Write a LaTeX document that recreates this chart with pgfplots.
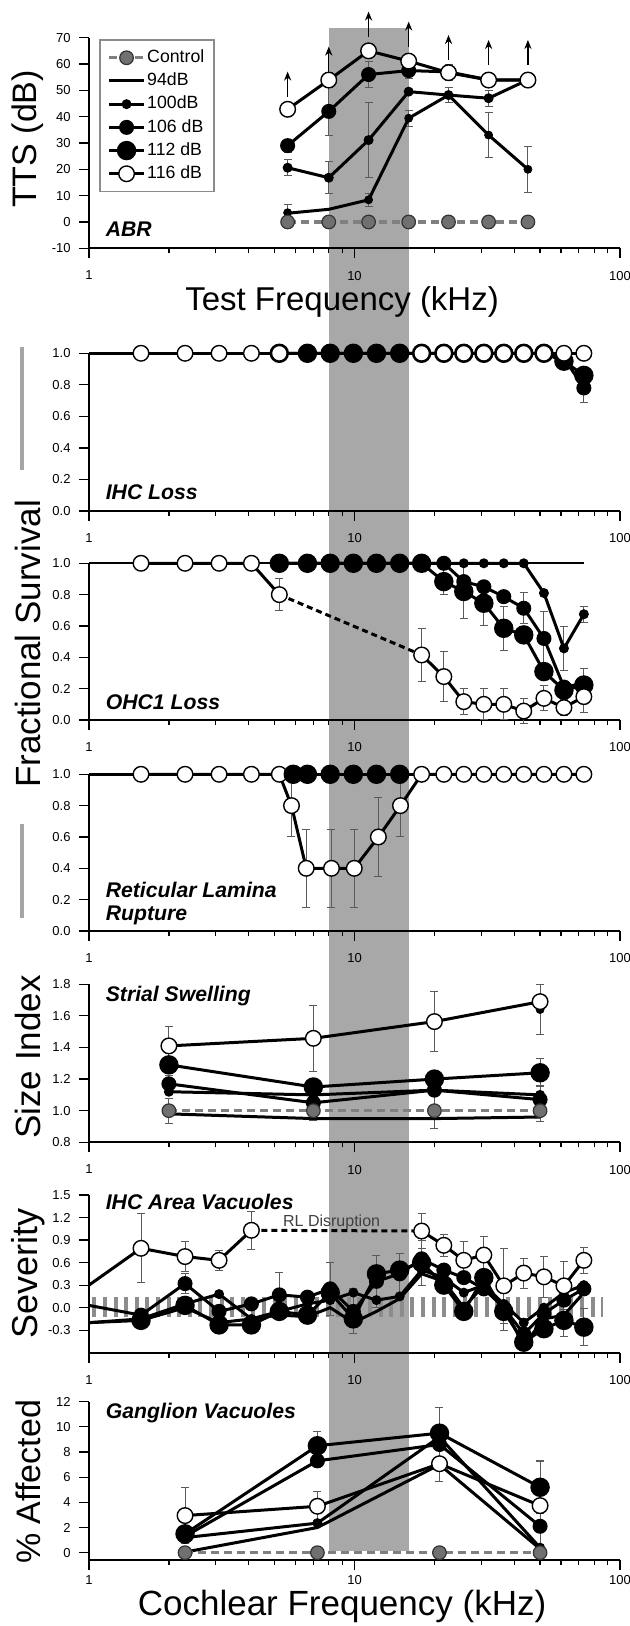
\documentclass[border=0pt]{standalone}
\usepackage{fontspec}
\setmainfont{Liberation Sans}
\usepackage{pgfplots}
\pgfplotsset{compat=1.18}
\usetikzlibrary{arrows.meta}

\definecolor{bandgray}{RGB}{168,168,168}
\definecolor{ctlfill}{RGB}{112,112,112}
\definecolor{ctlline}{RGB}{128,128,128}
\definecolor{hatchgray}{RGB}{140,140,140}
\definecolor{ebar}{RGB}{90,90,90}
\definecolor{sidebar}{RGB}{165,165,165}

\newcommand\ptitle{\fontsize{10.6}{12}\selectfont\bfseries\itshape}

% common look of all seven panels
\pgfplotsset{every axis/.append style={
    scale only axis, width=265.5pt,
    xmode=log, xmin=1, xmax=100,
    axis x line=bottom, axis y line=left,
    axis line style={line width=1pt,-},
    tick align=outside,
    xtick={1,10,100}, xticklabels={1,10,100},
    minor xtick={2,3,4,5,6,7,8,9,20,30,40,50,60,70,80,90},
    major tick length=5pt, minor tick length=2.5pt,
    tick style={black, line width=0.6pt},
    tick label style={font=\fontsize{6.5}{7}\selectfont},
    xticklabel style={yshift=-2.8pt},
    yticklabel style={xshift=-0.7pt},
    clip=false,
    ylabel style={font=\fontsize{17}{17}\selectfont},
    xlabel style={font=\fontsize{16.5}{17}\selectfont},
}}
\pgfplotsset{
  s94/.style={black, line width=1.5pt, mark=none},
  s100/.style={black, line width=1.5pt, mark=*, mark size=1.7pt, mark options={fill=black, solid}},
  s106/.style={black, line width=1.5pt, mark=*, mark size=3pt, mark options={fill=black, solid}},
  s112/.style={black, line width=1.5pt, mark=*, mark size=4.1pt, mark options={fill=black, solid}},
  s116/.style={black, line width=1.5pt, mark=*, mark size=3.9pt, mark options={fill=white, draw=black, line width=0.7pt, solid}},
  sctl/.style={ctlline, line width=1.6pt, dash pattern=on 4pt off 2.5pt, mark=*, mark size=3.4pt, mark options={fill=ctlfill, draw=black!80, line width=0.6pt, solid}},
  sdash/.style={black, line width=1.5pt, dash pattern=on 3pt off 2pt},
  sarrow/.style={forget plot, black, line width=0.6pt, mark=none, -{Stealth[length=4.5pt,width=3.6pt]}},
  ebars/.style={forget plot, only marks,
    error bars/y dir=both, error bars/y explicit,
    error bars/error mark=-,
    error bars/error bar style={ebar, line width=0.5pt},
    error bars/error mark options={rotate=90, ebar, line width=0.5pt, mark size=2pt}},
}

\begin{document}
\begin{tikzpicture}
\useasboundingbox (0,0) rectangle (315pt,813pt);

% side bars beside "Fractional Survival"
\draw[sidebar, line width=2.4pt] (11pt,639.5pt) -- (11pt,578pt);
\draw[sidebar, line width=2.4pt] (11pt,401pt) -- (11pt,354pt);

% 8-16 kHz band, behind every panel (same frame as the ABR panel)
\begin{axis}[at={(44.5pt,688.85pt)}, anchor=south west, height=105.3pt,
  ymin=-10, ymax=70, hide axis]
\addplot[fill=bandgray, draw=none, forget plot] coordinates {(8,73.8) (16,73.8) (16,-505) (8,-505)} -- cycle;
\end{axis}

% ---------------- ABR ----------------
\begin{axis}[at={(44.5pt,688.85pt)}, anchor=south west, height=105.3pt,
  ymin=-10, ymax=70, ytick={-10,0,10,20,30,40,50,60,70},
  yticklabels={-10,0,10,20,30,40,50,60,70},
  ylabel={TTS (dB)}, ylabel style={at={(axis description cs:-0.1146,0.519)}, anchor=center},
  xlabel={Test Frequency (kHz)}, xlabel style={at={(axis description cs:0.4766,-0.257)}, anchor=center},
  legend style={at={(axis description cs:0.019,0.992)}, anchor=north west,
    draw=black!45, line width=0.8pt, fill=white,
    font=\fontsize{8.85}{10}\selectfont, inner xsep=4pt, inner ysep=3pt,
    row sep=0pt, cells={anchor=west},
    nodes={inner sep=1pt, text height=7.2pt, text depth=2.4pt}},
  legend cell align=left,
]
\addplot[ebars] coordinates {
  (5.6,3.5) +- (0,3) (11.3,8.4) +- (0,2.5) (16,39.4) +- (0,3) (32,33) +- (0,8.7) (45,20) +- (0,8.7)
  (5.6,20.6) +- (0,3) (8,16.8) +- (0,6) (11.3,31.1) +- (0,14.4) (22.6,48.2) +- (0,3) (32,47) +- (0,3)
  (5.6,29) +- (0,2.5) (8,42) +- (0,9) (11.3,56) +- (0,5) (16,57.5) +- (0,3)
  (8,53.9) +- (0,3) (22.6,56.7) +- (0,3)
};
\addplot[sctl] coordinates {(5.6,0) (8,0) (11.3,0) (16,0) (22.6,0) (32,0) (45,0)};
\addlegendentry{Control\hspace{5pt}}
\addplot[s94] coordinates {(5.6,3.3) (8,4.8) (11.3,8.4) (16,39.4) (22.6,48.2) (32,33) (45,20)};
\addlegendentry{94dB}
\addplot[s100] coordinates {(5.6,20.6) (8,16.8) (11.3,31.1) (16,49.5) (22.6,48.2) (32,47) (45,54)};
\addlegendentry{100dB}
\addplot[s106] coordinates {(5.6,29) (8,42) (11.3,56) (16,57.5) (22.6,57) (32,54) (45,54)};
\addlegendentry{106 dB}
\addlegendimage{black, line width=1.5pt, mark=*, mark size=4.1pt, mark options={fill=black, solid}}
\addlegendentry{112 dB}
\addplot[s116] coordinates {(5.6,42.8) (8,53.9) (11.3,65) (16,61.1) (22.6,56.7) (32,53.9) (45,53.9)};
\addlegendentry{116 dB}
\addplot[sarrow] coordinates {(5.6,47.6) (5.6,57.1)};
\addplot[sarrow] coordinates {(8,57.1) (8,66.6)};
\addplot[sarrow] coordinates {(11.3,70.4) (11.3,79.9)};
\addplot[sarrow] coordinates {(16,66.6) (16,76.1)};
\addplot[sarrow] coordinates {(22.6,61.5) (22.6,71)};
\addplot[sarrow] coordinates {(32,59.6) (32,69.1)};
\addplot[sarrow] coordinates {(45,59.6) (45,69.1)};
\node[anchor=base west, font=\ptitle] at (axis description cs:0.0184,0.055) {ABR};
\end{axis}

% ---------------- IHC loss ----------------
\begin{axis}[at={(44.5pt,557.5pt)}, anchor=south west, height=78.85pt,
  ymin=0, ymax=1, ytick={0,0.2,0.4,0.6,0.8,1}, yticklabels={0.0,0.2,0.4,0.6,0.8,1.0}]
\addplot[ebars] coordinates {(73.1,0.78) +- (0,0.09) (61.5,0.95) +- (0,0.03)};
\addplot[s94] coordinates {(1,1) (73.1,1)};
\addplot[s106] coordinates {(5.21,1) (6.65,1) (8.1,1) (9.9,1) (12.1,1) (14.8,1) (17.9,1) (21.7,1) (25.8,1) (30.7,1) (36.5,1) (43.4,1) (51.7,1) (61.5,0.97) (73.1,0.78)};
\addplot[s112] coordinates {(5.21,1) (6.65,1) (8.1,1) (9.9,1) (12.1,1) (14.8,1) (17.9,1) (21.7,1) (25.8,1) (30.7,1) (36.5,1) (43.4,1) (51.7,1) (61.5,0.95) (73.1,0.86)};
\addplot[s116] coordinates {(1.57,1) (2.3,1) (3.09,1) (4.09,1) (5.21,1) (17.9,1) (21.7,1) (25.8,1) (30.7,1) (36.5,1) (43.4,1) (51.7,1) (61.5,1) (73.1,1)};
\node[anchor=base west, font=\ptitle] at (axis description cs:0.0184,0.07) {IHC Loss};
\end{axis}

% ---------------- OHC1 loss ----------------
\begin{axis}[at={(44.5pt,453pt)}, anchor=south west, height=78.35pt,
  ymin=0, ymax=1, ytick={0,0.2,0.4,0.6,0.8,1}, yticklabels={0.0,0.2,0.4,0.6,0.8,1.0},
  ylabel={Fractional Survival}, ylabel style={at={(axis description cs:-0.1146,0.485)}, anchor=center, font=\fontsize{17.5}{17.5}\selectfont}]
\addplot[ebars] coordinates {
  (5.21,0.8) +- (0,0.1) (17.9,0.415) +- (0,0.17) (21.7,0.277) +- (0,0.16) (25.8,0.117) +- (0,0.085)
  (30.7,0.10) +- (0,0.1) (36.5,0.10) +- (0,0.1) (43.4,0.057) +- (0,0.08) (51.7,0.138) +- (0,0.08)
  (61.5,0.079) +- (0,0.05) (73.1,0.149) +- (0,0.1)
  (9.9,1) +- (0,0.05) (21.7,0.883) +- (0,0.08) (25.8,0.82) +- (0,0.17) (30.7,0.745) +- (0,0.14)
  (36.5,0.585) +- (0,0.14) (43.4,0.713) +- (0,0.1) (51.7,0.52) +- (0,0.17) (61.5,0.457) +- (0,0.14)
  (73.1,0.675) +- (0,0.05) (73.1,0.23) +- (0,0.1)
};
\addplot[s94, line width=1pt] coordinates {(1,1) (73.1,1)};
\addplot[sdash] coordinates {(5.21,0.8) (17.9,0.415)};
\addplot[s100] coordinates {(5.21,1) (6.65,1) (8.1,1) (9.9,1) (12.1,1) (14.8,1) (17.9,1) (21.7,1) (25.8,1) (30.7,1) (36.5,1) (43.4,1) (51.7,0.81) (61.5,0.457) (73.1,0.675)};
\addplot[s106] coordinates {(5.21,1) (6.65,1) (8.1,1) (9.9,1) (12.1,1) (14.8,1) (17.9,1) (21.7,1) (25.8,0.883) (30.7,0.85) (36.5,0.787) (43.4,0.713) (51.7,0.52) (61.5,0.21) (73.1,0.234)};
\addplot[s112] coordinates {(5.21,1) (6.65,1) (8.1,1) (9.9,1) (12.1,1) (14.8,1) (17.9,1) (21.7,0.883) (25.8,0.82) (30.7,0.745) (36.5,0.585) (43.4,0.543) (51.7,0.309) (61.5,0.19) (73.1,0.223)};
\addplot[s116] coordinates {(1.57,1) (2.3,1) (3.09,1) (4.09,1) (5.21,0.8)};
\addplot[s116] coordinates {(17.9,0.415) (21.7,0.277) (25.8,0.117) (30.7,0.10) (36.5,0.10) (43.4,0.057) (51.7,0.138) (61.5,0.079) (73.1,0.149)};
\node[anchor=base west, font=\ptitle] at (axis description cs:0.0184,0.064) {OHC1 Loss};
\end{axis}

% ---------------- Reticular lamina ----------------
\begin{axis}[at={(44.5pt,347.5pt)}, anchor=south west, height=78.35pt,
  ymin=0, ymax=1, ytick={0,0.2,0.4,0.6,0.8,1}, yticklabels={0.0,0.2,0.4,0.6,0.8,1.0}]
\addplot[ebars] coordinates {
  (5.79,0.8) +- (0,0.2) (6.58,0.4) +- (0,0.25) (8.19,0.4) +- (0,0.25) (9.98,0.4) +- (0,0.25)
  (12.3,0.6) +- (0,0.25) (14.9,0.8) +- (0,0.2)
};
\addplot[s94] coordinates {(1,1) (73.1,1)};
\addplot[s116] coordinates {(1.57,1) (2.3,1) (3.09,1) (4.09,1) (5.21,1) (5.79,0.8) (6.58,0.4) (8.19,0.4) (9.98,0.4) (12.3,0.6) (14.9,0.8) (17.9,1) (21.7,1) (25.8,1) (30.7,1) (36.5,1) (43.4,1) (51.7,1) (61.5,1) (73.1,1)};
\addplot[s112] coordinates {(5.88,1) (6.65,1) (8.1,1) (9.9,1) (12.1,1) (14.8,1)};
\node[anchor=base west, font=\ptitle] at (axis description cs:0.0184,0.211) {Reticular Lamina};
\node[anchor=base west, font=\ptitle] at (axis description cs:0.0184,0.07) {Rupture};
\end{axis}

% ---------------- Strial swelling ----------------
\begin{axis}[at={(44.5pt,241.85pt)}, anchor=south west, height=79pt,
  ymin=0.8, ymax=1.8, ytick={0.8,1,1.2,1.4,1.6,1.8}, yticklabels={0.8,1.0,1.2,1.4,1.6,1.8},
  ylabel={Size Index}, ylabel style={at={(axis description cs:-0.1146,0.54)}, anchor=center, font=\fontsize{17.5}{17.5}\selectfont}]
\addplot[ebars] coordinates {
  (2,1.41) +- (0,0.12) (7,1.458) +- (0,0.21) (20,1.564) +- (0,0.19) (50,1.64) +- (0,0.16)
  (2,1.29) +- (0,0.04) (2,1.17) +- (0,0.05) (2,1.0) +- (0,0.08) (7,1.0) +- (0,0.06)
  (20,1.0) +- (0,0.11) (50,1.0) +- (0,0.07) (50,1.24) +- (0,0.09) (50,1.1) +- (0,0.06) (7,1.15) +- (0,0.05)
};
\addplot[s94] coordinates {(2,0.98) (7,0.95) (20,0.95) (50,0.96)};
\addplot[s100] coordinates {(2,1.12) (7,1.10) (20,1.13) (50,1.10)};
\addplot[s106] coordinates {(2,1.17) (7,1.05) (20,1.13) (50,1.07)};
\addplot[s112] coordinates {(2,1.29) (7,1.15) (20,1.20) (50,1.24)};
\addplot[s116] coordinates {(2,1.41) (7,1.458) (20,1.564) (50,1.69)};
\addplot[sctl] coordinates {(2,1) (7,1) (20,1) (50,1)};
\node[anchor=base west, font=\ptitle] at (axis description cs:0.0184,0.894) {Strial Swelling};
\end{axis}

% ---------------- IHC area vacuoles ----------------
\begin{axis}[at={(44.5pt,136.65pt)}, anchor=south west, height=78.85pt,
  ymin=-0.6, ymax=1.5, ytick={-0.3,0,0.3,0.6,0.9,1.2,1.5}, yticklabels={-0.3,0.0,0.3,0.6,0.9,1.2,1.5},
  ylabel={Severity}, ylabel style={at={(axis description cs:-0.1146,0.505)}, anchor=center, font=\fontsize{18}{18}\selectfont}]
\addplot[forget plot, hatchgray, line width=9.7pt, dash pattern=on 2pt off 3.3pt] coordinates {(1.03,0.01) (86,0.01)};
\addplot[ebars] coordinates {
  (1.57,0.79) +- (0,0.46) (2.3,0.68) +- (0,0.2) (3.09,0.63) +- (0,0.13) (4.09,1.03) +- (0,0.25)
  (17.9,1.02) +- (0,0.23) (21.7,0.83) +- (0,0.15) (25.8,0.63) +- (0,0.25) (30.7,0.7) +- (0,0.25)
  (36.5,0.29) +- (0,0.5) (43.4,0.46) +- (0,0.2) (51.7,0.41) +- (0,0.27) (61.5,0.29) +- (0,0.32)
  (73.1,0.63) +- (0,0.17)
  (2.3,0.32) +- (0,0.13) (5.21,0.17) +- (0,0.3) (8.1,0.25) +- (0,0.35) (9.9,-0.05) +- (0,0.3)
  (12.1,0.35) +- (0,0.35) (14.8,0.45) +- (0,0.27) (17.9,0.6) +- (0,0.3) (36.5,0.0) +- (0,0.3)
  (43.4,-0.35) +- (0,0.2) (61.5,-0.17) +- (0,0.22) (73.1,-0.26) +- (0,0.25)
};
\addplot[s94] coordinates {(1,-0.2) (1.57,-0.17) (2.3,0.0) (3.09,-0.2) (4.09,-0.15) (5.21,-0.1) (6.65,-0.12) (8.1,0.0) (9.9,-0.2) (12.1,-0.05) (14.8,0.12) (17.9,0.45) (21.7,0.35) (25.8,0.0) (30.7,0.3) (36.5,0.0) (43.4,-0.5) (51.7,-0.15) (61.5,-0.1) (73.1,0.2)};
\addplot[s94] coordinates {(1,-0.2) (1.57,-0.15)};
\addplot[s94] coordinates {(1,0.03) (1.57,-0.1)};
\addplot[s94] coordinates {(1,0.3) (1.57,0.79)};
\addplot[s100] coordinates {(1.57,-0.15) (2.3,0.05) (3.09,0.18) (4.09,-0.15) (5.21,-0.05) (6.65,0.05) (8.1,0.1) (9.9,0.2) (12.1,0.1) (14.8,0.15) (17.9,0.5) (21.7,0.4) (25.8,0.2) (30.7,0.3) (36.5,0.05) (43.4,-0.2) (51.7,0.0) (61.5,0.2) (73.1,0.3)};
\addplot[s106] coordinates {(1.57,-0.1) (2.3,0.32) (3.09,-0.05) (4.09,0.05) (5.21,0.17) (6.65,0.14) (8.1,0.25) (9.9,-0.05) (12.1,0.35) (14.8,0.45) (17.9,0.65) (21.7,0.5) (25.8,0.4) (30.7,0.25) (36.5,0.0) (43.4,-0.35) (51.7,-0.08) (61.5,0.1) (73.1,0.25)};
\addplot[s112] coordinates {(1.57,-0.17) (2.3,0.03) (3.09,-0.23) (4.09,-0.23) (5.21,-0.05) (6.65,-0.1) (8.1,0.2) (9.9,-0.15) (12.1,0.45) (14.8,0.5) (17.9,0.6) (21.7,0.3) (25.8,-0.05) (30.7,0.4) (36.5,-0.05) (43.4,-0.46) (51.7,-0.28) (61.5,-0.17) (73.1,-0.26)};
\addplot[sdash] coordinates {(4.09,1.03) (17.9,1.02)};
\addplot[s116] coordinates {(1.57,0.79) (2.3,0.68) (3.09,0.63) (4.09,1.03)};
\addplot[s116] coordinates {(17.9,1.02) (21.7,0.83) (25.8,0.63) (30.7,0.70) (36.5,0.29) (43.4,0.46) (51.7,0.41) (61.5,0.29) (73.1,0.63)};
\node[font=\fontsize{8}{9}\selectfont, text=black!75] at (axis cs:8.2,1.14) {RL Disruption};
\node[anchor=base west, font=\ptitle] at (axis description cs:0.0184,0.905) {IHC Area Vacuoles};
\end{axis}

% ---------------- Ganglion vacuoles ----------------
\begin{axis}[at={(44.5pt,33pt)}, anchor=south west, height=79.15pt,
  ymin=-0.58, ymax=12, ytick={0,2,4,6,8,10,12}, yticklabels={0,2,4,6,8,10,12},
  xticklabel style={yshift=1.2pt, inner sep=1pt},
  ylabel={\% Affected}, ylabel style={at={(axis description cs:-0.1146,0.493)}, anchor=center},
  xlabel={Cochlear Frequency (kHz)}, xlabel style={at={(axis description cs:0.4766,-0.292)}, anchor=center, inner sep=0pt, font=\fontsize{17.5}{17.5}\selectfont}]
\addplot[ebars] coordinates {
  (2.3,2.95) +- (0,2.25) (7.25,3.69) +- (0,1.15) (20.9,7.07) +- (0,1.45) (50,3.74) +- (0,3.5)
  (7.25,8.5) +- (0,1.1) (20.9,9.5) +- (0,2) (50,5.2) +- (0,2.1)
};
\addplot[s94] coordinates {(2.3,0.05) (7.25,2.0) (20.9,7.0) (50,0.3)};
\addplot[s100] coordinates {(2.3,1.2) (7.25,2.35) (20.9,9.2) (50,0.4)};
\addplot[s106] coordinates {(2.3,1.3) (7.25,7.3) (20.9,8.6) (50,2.1)};
\addplot[s112] coordinates {(2.3,1.5) (7.25,8.5) (20.9,9.5) (50,5.2)};
\addplot[s116] coordinates {(2.3,2.95) (7.25,3.69) (20.9,7.07) (50,3.74)};
\addplot[sctl] coordinates {(2.3,0) (7.25,0) (20.9,0) (50,0)};
\node[anchor=base west, font=\ptitle] at (axis description cs:0.0184,0.897) {Ganglion Vacuoles};
\end{axis}
\end{tikzpicture}
\end{document}
